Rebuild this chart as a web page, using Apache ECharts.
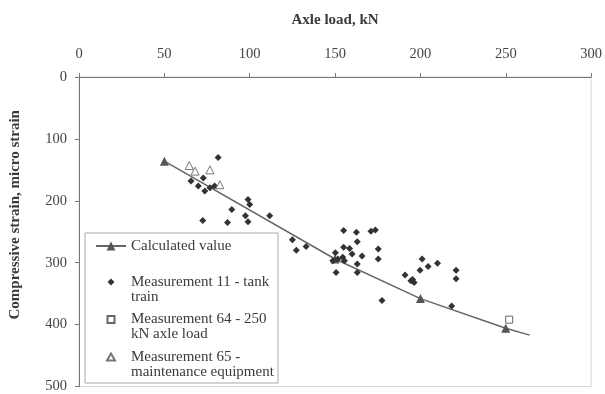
<!DOCTYPE html>
<html>
<head>
<meta charset="utf-8">
<script src="https://cdn.jsdelivr.net/npm/echarts@6/dist/echarts.min.js"></script>
<style>
  html, body { margin: 0; padding: 0; background: #fff; }
  #chart { width: 605px; height: 394px; }
</style>
</head>
<body>
<div id="chart"></div>
<script>
// calculated strain curve (axle load kN, strain)
const calculated = [[50, 136], [150, 294], [200, 358], [250, 406], [264, 417]]

// Measurement 11 - tank train
const tankTrain = [
  [65.6, 168], [69.9, 176], [72.8, 163], [73.7, 184], [76.7, 179], [79.4, 176],
  [81.5, 130], [72.5, 232], [87, 235], [89.5, 214], [99, 198], [100, 206],
  [97.5, 224], [99, 234], [111.7, 224], [125, 263], [127.3, 280], [133, 274],
  [150.2, 284], [151.6, 294], [154.5, 291], [148.7, 297], [150.6, 316],
  [155, 248], [155, 275], [158.5, 277], [162.5, 251], [163, 266], [160, 286],
  [155.5, 297], [163, 302], [163, 316], [165.8, 289], [171, 249], [173.6, 247],
  [175.3, 278], [175.3, 294], [177.5, 361], [191, 320], [194.4, 329],
  [196.3, 332], [195.4, 327], [199.8, 312], [201, 294], [204.5, 306],
  [210, 301], [220.9, 312], [220.9, 326], [218.3, 370]
]

// Measurement 64 - 250 kN axle load
const axle250 = [[252, 392]]

// Measurement 65 - maintenance equipment
const maintenance = [[64.6, 143], [68, 152], [76.7, 150], [82.5, 174]]

const seriesNames = ['Calculated value', 'Measurement 11 - tank train', 'Measurement 64 - 250 kN axle load', 'Measurement 65 - maintenance equipment']
// legend text wraps the way the original box does
const legendText = {
  'Measurement 11 - tank train': 'Measurement 11 - tank\ntrain',
  'Measurement 64 - 250 kN axle load': 'Measurement 64 - 250\nkN axle load',
  'Measurement 65 - maintenance equipment': 'Measurement 65 -\nmaintenance equipment'
}

const xTicks = { min: 0, max: 300, step: 50 }
const yTicks = { min: 0, max: 500, step: 100 }

const serif = '"Liberation Serif", "DejaVu Serif", serif'
const ink = '#3a3a3a'

// legend icons sit on the first text line: an empty point at the bottom keeps the box tall
const pad = ' M0,22L0,22'
const icons = {
  diamond: 'path://M0,0L3.5,3.5L0,7L-3.5,3.5Z' + pad,
  square: 'path://M-3.5,0L3.5,0L3.5,7L-3.5,7Z' + pad,
  triangle: 'path://M0,0L4,7L-4,7Z' + pad
}

const chart = echarts.init(document.getElementById('chart'))

chart.setOption({
  backgroundColor: '#fff',
  animation: false,
  grid: {
    left: 77, top: 77, right: 13, bottom: 6,
    show: true,
    borderColor: '#d6d6d6',
    borderWidth: 1
  },
  xAxis: {
    type: 'value',
    position: 'top',
    min: xTicks.min,
    max: xTicks.max,
    interval: xTicks.step,
    name: 'Axle load, kN',
    nameLocation: 'middle',
    nameGap: 49,
    nameTextStyle: { fontFamily: serif, fontSize: 15, fontWeight: 'bold', color: ink },
    axisLine: { lineStyle: { color: '#777', width: 1 } },
    axisTick: { show: true, length: 4, lineStyle: { color: '#777' } },
    axisLabel: { margin: 15, fontFamily: serif, fontSize: 14.5, color: '#444' },
    splitLine: { show: false }
  },
  yAxis: {
    type: 'value',
    inverse: true,
    min: yTicks.min,
    max: yTicks.max,
    interval: yTicks.step,
    name: 'Compressive strain, micro strain',
    nameLocation: 'middle',
    nameGap: 56,
    nameTextStyle: {
      fontFamily: serif, fontSize: 15, fontWeight: 'bold', color: ink,
      padding: [0, 0, 0, 34]
    },
    axisLine: { lineStyle: { color: '#777', width: 1 } },
    axisTick: { show: true, length: 4, lineStyle: { color: '#777' } },
    axisLabel: { margin: 12, fontFamily: serif, fontSize: 14.5, color: '#444' },
    splitLine: { show: false }
  },
  legend: [
    {
      left: 95,
      top: 238.5,
      padding: 0,
      orient: 'vertical',
      itemWidth: 30,
      itemHeight: 11,
      selectedMode: false,
      textStyle: { fontFamily: serif, fontSize: 15, color: ink, lineHeight: 15 },
      data: [seriesNames[0]]
    },
    {
      // content box starts at the widest icon's left edge, not at the item box
      left: 106,
      top: 274.5,
      padding: 0,
      orient: 'vertical',
      itemWidth: 30,
      itemHeight: 22,
      itemGap: 7.5,
      selectedMode: false,
      formatter: name => legendText[name],
      textStyle: { fontFamily: serif, fontSize: 15, color: ink, lineHeight: 15 },
      data: [
        { name: seriesNames[1], icon: icons.diamond },
        { name: seriesNames[2], icon: icons.square },
        { name: seriesNames[3], icon: icons.triangle }
      ]
    }
  ],
  graphic: [
    {
      type: 'rect',
      z: 3,
      shape: { x: 85, y: 233, width: 193, height: 150 },
      style: { fill: '#fff', stroke: '#a8a8a8', lineWidth: 1 }
    }
  ],
  series: [
    {
      name: seriesNames[0],
      type: 'line',
      symbol: 'triangle',
      symbolSize: 9,
      itemStyle: { color: '#555' },
      lineStyle: { color: '#666', width: 1.5 },
      data: calculated.map((p, i) => i === calculated.length - 1 ? { value: p, symbol: 'none' } : p),
      z: 2
    },
    {
      name: seriesNames[1],
      type: 'scatter',
      symbol: 'diamond',
      symbolSize: 7,
      itemStyle: { color: '#333', opacity: 1 },
      data: tankTrain,
      z: 3
    },
    {
      name: seriesNames[2],
      type: 'scatter',
      symbol: 'rect',
      symbolSize: 7,
      itemStyle: { color: '#fff', borderColor: '#666', borderWidth: 1, opacity: 1 },
      data: axle250,
      z: 3
    },
    {
      name: seriesNames[3],
      type: 'scatter',
      symbol: 'triangle',
      symbolSize: 8,
      itemStyle: { color: '#fff', borderColor: '#777', borderWidth: 1, opacity: 1 },
      data: maintenance,
      z: 3
    }
  ]
})

window.addEventListener('resize', () => chart.resize())
</script>
</body>
</html>
